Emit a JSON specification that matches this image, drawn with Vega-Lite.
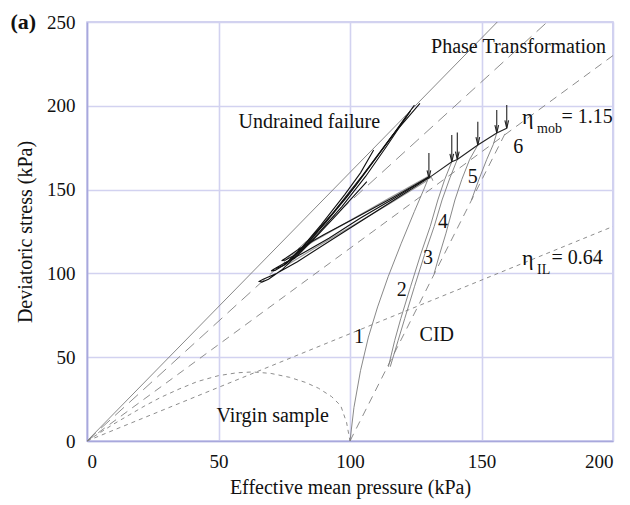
{
  "$schema": "https://vega.github.io/schema/vega-lite/v6.json",
  "width": 526,
  "height": 419,
  "autosize": {"type": "none"},
  "padding": {"left": 87, "top": 22, "right": 17, "bottom": 64},
  "background": "white",
  "config": {
    "view": {"stroke": "#c4c4ea", "strokeWidth": 1.5},
    "font": "Liberation Serif",
    "axis": {
      "grid": true,
      "gridColor": "#d2d2f0",
      "gridWidth": 1.6,
      "domainColor": "#a8a8dc",
      "domainWidth": 1.6,
      "ticks": false,
      "labelFont": "Liberation Serif",
      "labelFontSize": 19,
      "labelColor": "#111",
      "titleFont": "Liberation Serif",
      "titleFontSize": 20,
      "titleFontWeight": "normal",
      "titleColor": "#111"
    }
  },
  "datasets": {
    "lines": [
      {"s": "csl", "k": "solid", "o": 0, "p": 0, "q": 0},
      {"s": "csl", "k": "solid", "o": 1, "p": 156, "q": 250},

      {"s": "pt", "k": "phase", "o": 0, "p": 0, "q": 0},
      {"s": "pt", "k": "phase", "o": 1, "p": 175, "q": 250},

      {"s": "mob", "k": "mob", "o": 0, "p": 0, "q": 0},
      {"s": "mob", "k": "mob", "o": 1, "p": 200, "q": 230},

      {"s": "il", "k": "il", "o": 0, "p": 0, "q": 0},
      {"s": "il", "k": "il", "o": 1, "p": 200, "q": 128},

      {"s": "vir", "k": "virgin", "o": 0, "p": 0, "q": 0},
      {"s": "vir", "k": "virgin", "o": 1, "p": 5, "q": 5},
      {"s": "vir", "k": "virgin", "o": 2, "p": 10, "q": 10},
      {"s": "vir", "k": "virgin", "o": 3, "p": 16, "q": 15.5},
      {"s": "vir", "k": "virgin", "o": 4, "p": 22, "q": 21},
      {"s": "vir", "k": "virgin", "o": 5, "p": 28, "q": 26},
      {"s": "vir", "k": "virgin", "o": 6, "p": 35, "q": 31},
      {"s": "vir", "k": "virgin", "o": 7, "p": 42, "q": 35.5},
      {"s": "vir", "k": "virgin", "o": 8, "p": 50, "q": 39},
      {"s": "vir", "k": "virgin", "o": 9, "p": 57, "q": 40.7},
      {"s": "vir", "k": "virgin", "o": 10, "p": 63, "q": 41.2},
      {"s": "vir", "k": "virgin", "o": 11, "p": 70, "q": 40.3},
      {"s": "vir", "k": "virgin", "o": 12, "p": 77, "q": 38},
      {"s": "vir", "k": "virgin", "o": 13, "p": 83, "q": 35},
      {"s": "vir", "k": "virgin", "o": 14, "p": 88, "q": 31.5},
      {"s": "vir", "k": "virgin", "o": 15, "p": 93, "q": 26.5},
      {"s": "vir", "k": "virgin", "o": 16, "p": 96.5, "q": 21},
      {"s": "vir", "k": "virgin", "o": 17, "p": 98.7, "q": 11},
      {"s": "vir", "k": "virgin", "o": 18, "p": 100, "q": 0},

      {"s": "cid", "k": "cid", "o": 0, "p": 100, "q": 0},
      {"s": "cid", "k": "cid", "o": 1, "p": 159.8, "q": 186},

      {"s": "p1", "k": "path", "o": 0, "p": 100, "q": 0},
      {"s": "p1", "k": "path", "o": 1, "p": 101.5, "q": 20},
      {"s": "p1", "k": "path", "o": 2, "p": 104, "q": 42},
      {"s": "p1", "k": "path", "o": 3, "p": 107, "q": 62},
      {"s": "p1", "k": "path", "o": 4, "p": 110.5, "q": 80},
      {"s": "p1", "k": "path", "o": 5, "p": 114.5, "q": 98},
      {"s": "p1", "k": "path", "o": 6, "p": 119.5, "q": 118},
      {"s": "p1", "k": "path", "o": 7, "p": 124.5, "q": 137},
      {"s": "p1", "k": "path", "o": 8, "p": 128.3, "q": 151},
      {"s": "p1", "k": "path", "o": 9, "p": 129.8, "q": 156.8},
      {"s": "p1", "k": "path", "o": 10, "p": 131, "q": 157.2},
      {"s": "p1", "k": "path", "o": 11, "p": 131.5, "q": 155.3},

      {"s": "p2", "k": "path", "o": 0, "p": 114.6, "q": 44.3},
      {"s": "p2", "k": "path", "o": 1, "p": 117, "q": 60},
      {"s": "p2", "k": "path", "o": 2, "p": 119.3, "q": 73},
      {"s": "p2", "k": "path", "o": 3, "p": 123, "q": 92},
      {"s": "p2", "k": "path", "o": 4, "p": 127, "q": 112},
      {"s": "p2", "k": "path", "o": 5, "p": 130.5, "q": 128},
      {"s": "p2", "k": "path", "o": 6, "p": 133.4, "q": 143.8},
      {"s": "p2", "k": "path", "o": 7, "p": 136, "q": 156},
      {"s": "p2", "k": "path", "o": 8, "p": 138.7, "q": 166.6},

      {"s": "p3", "k": "path", "o": 0, "p": 115.3, "q": 44.3},
      {"s": "p3", "k": "path", "o": 1, "p": 118.3, "q": 60},
      {"s": "p3", "k": "path", "o": 2, "p": 120.8, "q": 73},
      {"s": "p3", "k": "path", "o": 3, "p": 124.5, "q": 92},
      {"s": "p3", "k": "path", "o": 4, "p": 128.5, "q": 112},
      {"s": "p3", "k": "path", "o": 5, "p": 132, "q": 128},
      {"s": "p3", "k": "path", "o": 6, "p": 135, "q": 143.8},
      {"s": "p3", "k": "path", "o": 7, "p": 138, "q": 157},
      {"s": "p3", "k": "path", "o": 8, "p": 140.8, "q": 168},

      {"s": "p4", "k": "path", "o": 0, "p": 132, "q": 100},
      {"s": "p4", "k": "path", "o": 1, "p": 134, "q": 111},
      {"s": "p4", "k": "path", "o": 2, "p": 136.5, "q": 124},
      {"s": "p4", "k": "path", "o": 3, "p": 139.9, "q": 143.8},
      {"s": "p4", "k": "path", "o": 4, "p": 142.5, "q": 156},
      {"s": "p4", "k": "path", "o": 5, "p": 145.5, "q": 168},
      {"s": "p4", "k": "path", "o": 6, "p": 148.6, "q": 176.6},

      {"s": "p5", "k": "path", "o": 0, "p": 146.2, "q": 143.8},
      {"s": "p5", "k": "path", "o": 1, "p": 149, "q": 156},
      {"s": "p5", "k": "path", "o": 2, "p": 152, "q": 168},
      {"s": "p5", "k": "path", "o": 3, "p": 154.5, "q": 177},
      {"s": "p5", "k": "path", "o": 4, "p": 155.8, "q": 183.8},

      {"s": "g1", "k": "loopGrey", "o": 0, "p": 130.5, "q": 158.6},
      {"s": "g1", "k": "loopGrey", "o": 1, "p": 115, "q": 145},
      {"s": "g1", "k": "loopGrey", "o": 2, "p": 100, "q": 131.5},
      {"s": "g1", "k": "loopGrey", "o": 3, "p": 86, "q": 119},
      {"s": "g1", "k": "loopGrey", "o": 4, "p": 78, "q": 111},
      {"s": "g2", "k": "loopGrey", "o": 0, "p": 129.5, "q": 155.6},
      {"s": "g2", "k": "loopGrey", "o": 1, "p": 115, "q": 141.5},
      {"s": "g2", "k": "loopGrey", "o": 2, "p": 100, "q": 127.5},
      {"s": "g2", "k": "loopGrey", "o": 3, "p": 86, "q": 114.5},
      {"s": "g2", "k": "loopGrey", "o": 4, "p": 76, "q": 105},

      {"s": "u1", "k": "loop", "o": 0, "p": 130, "q": 157},
      {"s": "u1", "k": "loop", "o": 1, "p": 118, "q": 145},
      {"s": "u1", "k": "loop", "o": 2, "p": 105, "q": 132},
      {"s": "u1", "k": "loop", "o": 3, "p": 92, "q": 119},
      {"s": "u1", "k": "loop", "o": 4, "p": 80, "q": 107},
      {"s": "u1", "k": "loop", "o": 5, "p": 72, "q": 100},
      {"s": "u1", "k": "loop", "o": 6, "p": 67, "q": 96.5},
      {"s": "u1", "k": "loop", "o": 7, "p": 65.5, "q": 95.3},
      {"s": "u1", "k": "loop", "o": 8, "p": 66.5, "q": 94.8},
      {"s": "u1", "k": "loop", "o": 9, "p": 69, "q": 96.5},
      {"s": "u1", "k": "loop", "o": 10, "p": 74, "q": 102},
      {"s": "u1", "k": "loop", "o": 11, "p": 80, "q": 111},
      {"s": "u1", "k": "loop", "o": 12, "p": 88, "q": 124},
      {"s": "u1", "k": "loop", "o": 13, "p": 97, "q": 140},
      {"s": "u1", "k": "loop", "o": 14, "p": 106, "q": 158},
      {"s": "u1", "k": "loop", "o": 15, "p": 114, "q": 176},
      {"s": "u1", "k": "loop", "o": 16, "p": 120, "q": 190},
      {"s": "u1", "k": "loop", "o": 17, "p": 123, "q": 197},

      {"s": "u2", "k": "loop", "o": 0, "p": 130, "q": 157.5},
      {"s": "u2", "k": "loop", "o": 1, "p": 117, "q": 145},
      {"s": "u2", "k": "loop", "o": 2, "p": 104, "q": 133},
      {"s": "u2", "k": "loop", "o": 3, "p": 92, "q": 121},
      {"s": "u2", "k": "loop", "o": 4, "p": 82, "q": 112},
      {"s": "u2", "k": "loop", "o": 5, "p": 75, "q": 106},
      {"s": "u2", "k": "loop", "o": 6, "p": 71, "q": 102.5},
      {"s": "u2", "k": "loop", "o": 7, "p": 70, "q": 101.5},
      {"s": "u2", "k": "loop", "o": 8, "p": 71.5, "q": 101.8},
      {"s": "u2", "k": "loop", "o": 9, "p": 76, "q": 106},
      {"s": "u2", "k": "loop", "o": 10, "p": 82, "q": 115},
      {"s": "u2", "k": "loop", "o": 11, "p": 90, "q": 129},
      {"s": "u2", "k": "loop", "o": 12, "p": 99, "q": 146},
      {"s": "u2", "k": "loop", "o": 13, "p": 108, "q": 165},
      {"s": "u2", "k": "loop", "o": 14, "p": 116, "q": 182},
      {"s": "u2", "k": "loop", "o": 15, "p": 121.5, "q": 194},

      {"s": "u3", "k": "loop", "o": 0, "p": 130.5, "q": 158},
      {"s": "u3", "k": "loop", "o": 1, "p": 116, "q": 145},
      {"s": "u3", "k": "loop", "o": 2, "p": 102, "q": 133},
      {"s": "u3", "k": "loop", "o": 3, "p": 90, "q": 123},
      {"s": "u3", "k": "loop", "o": 4, "p": 81, "q": 115},
      {"s": "u3", "k": "loop", "o": 5, "p": 75.5, "q": 109},
      {"s": "u3", "k": "loop", "o": 6, "p": 74, "q": 107.5},
      {"s": "u3", "k": "loop", "o": 7, "p": 75.5, "q": 108},
      {"s": "u3", "k": "loop", "o": 8, "p": 79, "q": 111},
      {"s": "u3", "k": "loop", "o": 9, "p": 85, "q": 121},
      {"s": "u3", "k": "loop", "o": 10, "p": 93, "q": 135},
      {"s": "u3", "k": "loop", "o": 11, "p": 102, "q": 152},
      {"s": "u3", "k": "loop", "o": 12, "p": 110, "q": 169},
      {"s": "u3", "k": "loop", "o": 13, "p": 117, "q": 184},
      {"s": "u3", "k": "loop", "o": 14, "p": 124.5, "q": 200.5},

      {"s": "u4", "k": "loop", "o": 0, "p": 75, "q": 106},
      {"s": "u4", "k": "loop", "o": 1, "p": 79, "q": 109},
      {"s": "u4", "k": "loop", "o": 2, "p": 86, "q": 120},
      {"s": "u4", "k": "loop", "o": 3, "p": 95, "q": 135},
      {"s": "u4", "k": "loop", "o": 4, "p": 106.4, "q": 154.7},

      {"s": "u5", "k": "loop", "o": 0, "p": 72, "q": 103},
      {"s": "u5", "k": "loop", "o": 1, "p": 75, "q": 105},
      {"s": "u5", "k": "loop", "o": 2, "p": 81, "q": 114},
      {"s": "u5", "k": "loop", "o": 3, "p": 89, "q": 129},
      {"s": "u5", "k": "loop", "o": 4, "p": 98, "q": 147},
      {"s": "u5", "k": "loop", "o": 5, "p": 104, "q": 160},
      {"s": "u5", "k": "loop", "o": 6, "p": 109, "q": 173.6},

      {"s": "u6", "k": "loop", "o": 0, "p": 77, "q": 108},
      {"s": "u6", "k": "loop", "o": 1, "p": 84, "q": 118},
      {"s": "u6", "k": "loop", "o": 2, "p": 94, "q": 137},
      {"s": "u6", "k": "loop", "o": 3, "p": 105, "q": 159},
      {"s": "u6", "k": "loop", "o": 4, "p": 116, "q": 182},
      {"s": "u6", "k": "loop", "o": 5, "p": 126.6, "q": 201.5},

      {"s": "fl", "k": "fail", "o": 0, "p": 130, "q": 157},
      {"s": "fl", "k": "fail", "o": 1, "p": 138.7, "q": 166.6},
      {"s": "fl", "k": "fail", "o": 2, "p": 140.8, "q": 168},
      {"s": "fl", "k": "fail", "o": 3, "p": 148.6, "q": 176.6},
      {"s": "fl", "k": "fail", "o": 4, "p": 155.8, "q": 183.8},
      {"s": "fl", "k": "fail", "o": 5, "p": 159.6, "q": 186.6},

      {"s": "a1", "k": "arrow", "o": 0, "p": 130, "q": 171.8},
      {"s": "a1", "k": "arrow", "o": 1, "p": 130, "q": 156.8},
      {"s": "h1", "k": "arrow", "o": 0, "p": 129.3, "q": 161.5},
      {"s": "h1", "k": "arrow", "o": 1, "p": 130, "q": 156.8},
      {"s": "h1", "k": "arrow", "o": 2, "p": 130.7, "q": 161.5},
      {"s": "a2", "k": "arrow", "o": 0, "p": 138.7, "q": 182.6},
      {"s": "a2", "k": "arrow", "o": 1, "p": 138.7, "q": 166.6},
      {"s": "h2", "k": "arrow", "o": 0, "p": 138, "q": 171.3},
      {"s": "h2", "k": "arrow", "o": 1, "p": 138.7, "q": 166.6},
      {"s": "h2", "k": "arrow", "o": 2, "p": 139.4, "q": 171.3},
      {"s": "a3", "k": "arrow", "o": 0, "p": 140.8, "q": 184},
      {"s": "a3", "k": "arrow", "o": 1, "p": 140.8, "q": 168},
      {"s": "h3", "k": "arrow", "o": 0, "p": 140.1, "q": 172.7},
      {"s": "h3", "k": "arrow", "o": 1, "p": 140.8, "q": 168},
      {"s": "h3", "k": "arrow", "o": 2, "p": 141.5, "q": 172.7},
      {"s": "a4", "k": "arrow", "o": 0, "p": 148.6, "q": 190.5},
      {"s": "a4", "k": "arrow", "o": 1, "p": 148.6, "q": 176.6},
      {"s": "h4", "k": "arrow", "o": 0, "p": 147.9, "q": 181.3},
      {"s": "h4", "k": "arrow", "o": 1, "p": 148.6, "q": 176.6},
      {"s": "h4", "k": "arrow", "o": 2, "p": 149.3, "q": 181.3},
      {"s": "a5", "k": "arrow", "o": 0, "p": 155.8, "q": 197.5},
      {"s": "a5", "k": "arrow", "o": 1, "p": 155.8, "q": 183.8},
      {"s": "h5", "k": "arrow", "o": 0, "p": 155.1, "q": 188.5},
      {"s": "h5", "k": "arrow", "o": 1, "p": 155.8, "q": 183.8},
      {"s": "h5", "k": "arrow", "o": 2, "p": 156.5, "q": 188.5},
      {"s": "a6", "k": "arrow", "o": 0, "p": 159.6, "q": 200.5},
      {"s": "a6", "k": "arrow", "o": 1, "p": 159.6, "q": 186.6},
      {"s": "h6", "k": "arrow", "o": 0, "p": 158.9, "q": 191.3},
      {"s": "h6", "k": "arrow", "o": 1, "p": 159.6, "q": 186.6},
      {"s": "h6", "k": "arrow", "o": 2, "p": 160.3, "q": 191.3}
    ],
    "notes": [
      {"t": "Phase Transformation", "p": 164.1, "q": 235.3},
      {"t": "Undrained failure", "p": 84.5, "q": 190.5},
      {"t": "Virgin sample", "p": 70.6, "q": 14.9},
      {"t": "CID", "p": 133, "q": 63.2},
      {"t": "1", "p": 103.4, "q": 62},
      {"t": "2", "p": 119.7, "q": 90},
      {"t": "3", "p": 129.7, "q": 109.2},
      {"t": "4", "p": 135.4, "q": 130.8},
      {"t": "5", "p": 146.7, "q": 157.5},
      {"t": "6", "p": 164, "q": 175.6}
    ],
    "greek": [
      {"t": "η", "p": 165.4, "q": 193.5},
      {"t": "η", "p": 165.4, "q": 109.4}
    ],
    "subs": [
      {"t": "mob", "p": 171.1, "q": 186.2},
      {"t": "IL", "p": 171.1, "q": 101.8}
    ],
    "eqs": [
      {"t": "= 1.15", "p": 180.4, "q": 193.5},
      {"t": "= 0.64", "p": 176.6, "q": 109.4}
    ],
    "panel": [
      {"t": "(a)", "p": -24.2, "q": 250.2}
    ]
  },
  "encoding": {
    "x": {
      "field": "p",
      "type": "quantitative",
      "scale": {"domain": [0, 200], "nice": false},
      "axis": {
        "values": [0, 50, 100, 150, 200],
        "labelPadding": 11,
        "title": "Effective mean pressure (kPa)",
        "titlePadding": 6
      }
    },
    "y": {
      "field": "q",
      "type": "quantitative",
      "scale": {"domain": [0, 250], "nice": false},
      "axis": {
        "values": [0, 50, 100, 150, 200, 250],
        "labelPadding": 12,
        "title": "Deviatoric stress (kPa)",
        "titlePadding": 11
      }
    }
  },
  "layer": [
    {
      "data": {"name": "lines"},
      "transform": [{"filter": "datum.k === 'solid'"}],
      "mark": {"type": "line", "color": "#7a7a7a", "strokeWidth": 0.9},
      "encoding": {"detail": {"field": "s"}, "order": {"field": "o"}}
    },
    {
      "data": {"name": "lines"},
      "transform": [{"filter": "datum.k === 'phase'"}],
      "mark": {"type": "line", "color": "#808080", "strokeWidth": 0.9, "strokeDash": [12, 7]},
      "encoding": {"detail": {"field": "s"}, "order": {"field": "o"}}
    },
    {
      "data": {"name": "lines"},
      "transform": [{"filter": "datum.k === 'mob' || datum.k === 'cid'"}],
      "mark": {"type": "line", "color": "#808080", "strokeWidth": 0.9, "strokeDash": [8, 6]},
      "encoding": {"detail": {"field": "s"}, "order": {"field": "o"}}
    },
    {
      "data": {"name": "lines"},
      "transform": [{"filter": "datum.k === 'il' || datum.k === 'virgin'"}],
      "mark": {"type": "line", "color": "#808080", "strokeWidth": 0.9, "strokeDash": [4, 4]},
      "encoding": {"detail": {"field": "s"}, "order": {"field": "o"}}
    },
    {
      "data": {"name": "lines"},
      "transform": [{"filter": "datum.k === 'path'"}],
      "mark": {"type": "line", "color": "#7a7a7a", "strokeWidth": 0.9},
      "encoding": {"detail": {"field": "s"}, "order": {"field": "o"}}
    },
    {
      "data": {"name": "lines"},
      "transform": [{"filter": "datum.k === 'loopGrey'"}],
      "mark": {"type": "line", "color": "#999999", "strokeWidth": 1.2},
      "encoding": {"detail": {"field": "s"}, "order": {"field": "o"}}
    },
    {
      "data": {"name": "lines"},
      "transform": [{"filter": "datum.k === 'loop'"}],
      "mark": {"type": "line", "color": "#111111", "strokeWidth": 1.1},
      "encoding": {"detail": {"field": "s"}, "order": {"field": "o"}}
    },
    {
      "data": {"name": "lines"},
      "transform": [{"filter": "datum.k === 'fail' || datum.k === 'arrow'"}],
      "mark": {"type": "line", "color": "#222222", "strokeWidth": 1.1},
      "encoding": {"detail": {"field": "s"}, "order": {"field": "o"}}
    },
    {
      "data": {"name": "notes"},
      "mark": {"type": "text", "font": "Liberation Serif", "fontSize": 20, "align": "center", "baseline": "middle", "color": "#111"},
      "encoding": {"text": {"field": "t"}}
    },
    {
      "data": {"name": "greek"},
      "mark": {"type": "text", "font": "Liberation Serif", "fontSize": 22, "align": "left", "baseline": "middle", "color": "#111"},
      "encoding": {"text": {"field": "t"}}
    },
    {
      "data": {"name": "subs"},
      "mark": {"type": "text", "font": "Liberation Serif", "fontSize": 14, "align": "left", "baseline": "middle", "color": "#111"},
      "encoding": {"text": {"field": "t"}}
    },
    {
      "data": {"name": "eqs"},
      "mark": {"type": "text", "font": "Liberation Serif", "fontSize": 20, "align": "left", "baseline": "middle", "color": "#111"},
      "encoding": {"text": {"field": "t"}}
    },
    {
      "data": {"name": "panel"},
      "mark": {"type": "text", "font": "Liberation Serif", "fontSize": 22, "fontWeight": "bold", "align": "center", "baseline": "middle", "color": "#111"},
      "encoding": {"text": {"field": "t"}}
    }
  ]
}
